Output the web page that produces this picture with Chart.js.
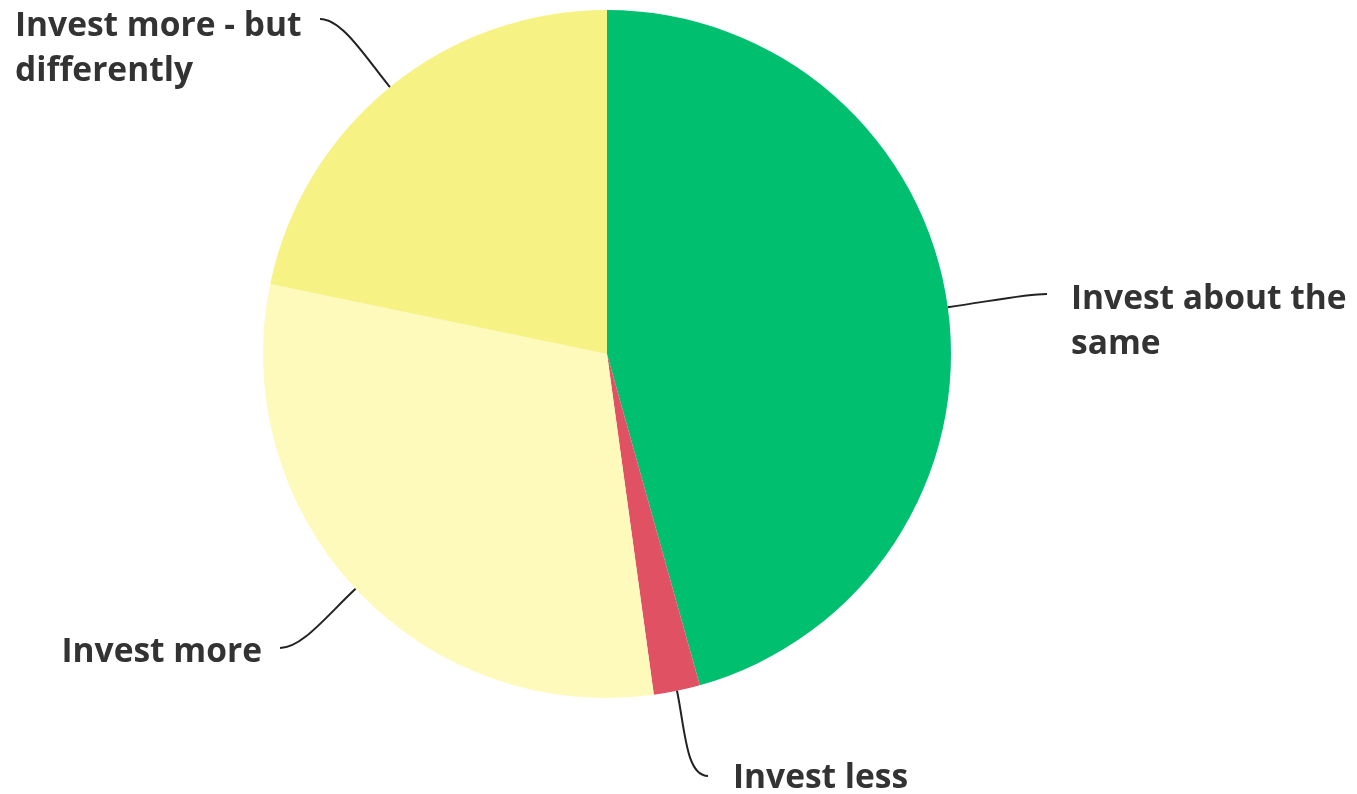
<!DOCTYPE html>
<html>
<head>
<meta charset="utf-8">
<script src="https://cdn.jsdelivr.net/npm/chart.js@4"></script>
<style>
  html, body { margin: 0; padding: 0; background: #fff; }
  #wrap { width: 1357px; height: 794px; position: relative; }
</style>
</head>
<body>
<div id="wrap"><canvas id="pieChart"></canvas></div>
<script>
// Data
const CATEGORIES = [
  ["Invest about the", "same"],
  ["Invest less"],
  ["Invest more"],
  ["Invest more - but", "differently"],
];
const RESPONSES = [21, 1, 14, 10];
const SLICE_COLORS = ["#00bf6f", "#e05263", "#fefabb", "#f6f283"];

// Where each label sits (leader line end, text x, alignment, first baseline)
const LABEL_PLACES = [
  { end: [1047, 294], tx: 1071, align: "left", base: 309 },
  { end: [708, 776], tx: 733, align: "left", base: 788 },
  { end: [280, 648], tx: 262, align: "right", base: 662 },
  { end: [320, 19], tx: 15, align: "left", base: 36 },
];

const LABEL_FONT = "bold 33.5px 'Open Sans'";
const LINE_HEIGHT = 45;

/**
 * Draws curved leader lines from each slice's mid angle to its label
 */
const leaderLabels = {
  id: "leaderLabels",
  afterDatasetsDraw(chart) {
    const ctx = chart.ctx;
    const meta = chart.getDatasetMeta(0);
    ctx.save();
    meta.data.forEach((arc, i) => {
      const { x, y, startAngle, endAngle, outerRadius } = arc.getProps(
        ["x", "y", "startAngle", "endAngle", "outerRadius"],
        true
      );
      const mid = (startAngle + endAngle) / 2;
      const ux = Math.cos(mid);
      const uy = Math.sin(mid);
      const sx = x + ux * outerRadius;
      const sy = y + uy * outerRadius;
      const place = LABEL_PLACES[i];
      const [ex, ey] = place.end;
      const dir = ex > sx ? 1 : -1;

      ctx.beginPath();
      ctx.moveTo(sx, sy);
      ctx.bezierCurveTo(
        sx + ux * 40,
        sy + uy * 40,
        ex - dir * 22,
        ey,
        ex,
        ey
      );
      ctx.strokeStyle = "#222";
      ctx.lineWidth = 2;
      ctx.stroke();

      ctx.fillStyle = "#333";
      ctx.font = LABEL_FONT;
      ctx.textAlign = place.align;
      ctx.textBaseline = "alphabetic";
      CATEGORIES[i].forEach((line, j) => {
        ctx.fillText(line, place.tx, place.base + j * LINE_HEIGHT);
      });
    });
    ctx.restore();
  },
};

const pieCtx = document.getElementById("pieChart").getContext("2d");
const pieChart = new Chart(pieCtx, {
  type: "pie",
  data: {
    labels: CATEGORIES.map((c) => c.join(" ")),
    datasets: [
      {
        data: RESPONSES,
        backgroundColor: SLICE_COLORS,
        borderWidth: 0,
      },
    ],
  },
  options: {
    responsive: true,
    maintainAspectRatio: false,
    animation: false,
    layout: {
      padding: { top: 10, bottom: 96, left: 199, right: 342 },
    },
    plugins: {
      legend: { display: false },
      tooltip: { enabled: false },
    },
  },
  plugins: [leaderLabels],
});
</script>
</body>
</html>
